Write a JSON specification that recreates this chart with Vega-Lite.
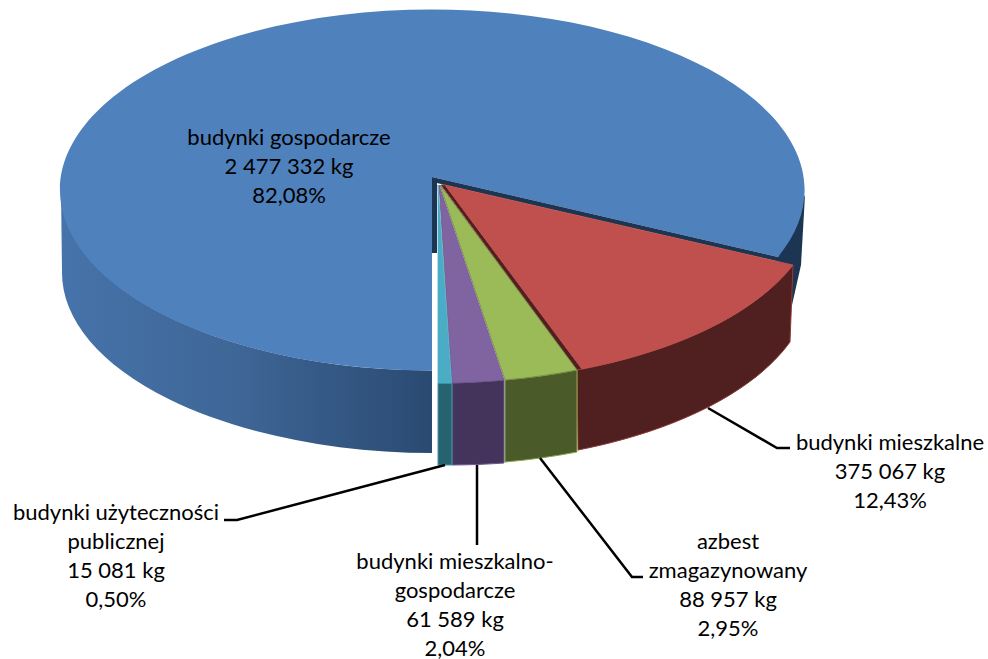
{
 "$schema":"https://vega.github.io/schema/vega-lite/v6.json",
 "width":988,"height":659,"padding":0,"autosize":{"type":"none"},
 "background":"white",
 "config":{"view":{"stroke":null}},
 "data":{"values":[
  {"slice":"budynki gospodarcze","kg":2477332,"pct":82.08,"label":"budynki gospodarcze\n2 477 332 kg\n82,08%"},
  {"slice":"budynki mieszkalne","kg":375067,"pct":12.43,"label":"budynki mieszkalne\n375 067 kg\n12,43%"},
  {"slice":"azbest zmagazynowany","kg":88957,"pct":2.95,"label":"azbest\nzmagazynowany\n88 957 kg\n2,95%"},
  {"slice":"budynki mieszkalno-gospodarcze","kg":61589,"pct":2.04,"label":"budynki mieszkalno-\ngospodarcze\n61 589 kg\n2,04%"},
  {"slice":"budynki użyteczności publicznej","kg":15081,"pct":0.5,"label":"budynki użyteczności\npublicznej\n15 081 kg\n0,50%"}
 ]},
 "resolve":{"scale":{"shape":"independent","fill":"independent","stroke":"independent"}},
 "layer":[
  {"transform":[{"filter":"datum.pct > 50"}],
   "mark":{"type":"point","filled":true,"size":4,"opacity":1,"fill":"#1c3553"},
   "encoding":{"shape":{"field":"slice","type":"nominal","legend":null,"scale":{"range":["M 284,-72.5 L 311,-134.5 L 307,-64.5 L 298,-24.5 L 276,-29.5 Z"]}}}},
  {"transform":[{"filter":"datum.pct > 50"}],
   "mark":{"type":"point","filled":true,"size":4,"opacity":1,"fill":{"x1":0,"y1":0,"x2":1,"y2":0,"gradient":"linear","stops":[{"offset":0,"color":"#4673aa"},{"offset":0.45,"color":"#3f6798"},{"offset":1,"color":"#2a4a72"}]}},
   "encoding":{"shape":{"field":"slice","type":"nominal","legend":null,"scale":{"range":["M -433,-139.5 A 372.3 180.5 0 0 0 -62,41 L -62,123.5 A 372.3 180.5 0 0 1 -432,-58.5 Z"]}}}},
  {"transform":[{"filter":"datum.pct > 50"}],
   "mark":{"type":"point","filled":true,"size":4,"opacity":1,"fill":"#4f81bd"},
   "encoding":{"shape":{"field":"slice","type":"nominal","legend":null,"scale":{"range":["M -62,-152.5 L 284,-72.5 A 372.3 180.5 0 1 0 -62,41 Z"]}}}},
  {"transform":[{"filter":"datum.pct > 50"}],
   "mark":{"type":"point","filled":true,"size":4,"opacity":1,"fill":"#1c3553"},
   "encoding":{"shape":{"field":"slice","type":"nominal","legend":null,"scale":{"range":["M -62,-152.5 L 284,-72.5 L 299,-64.5 L -49,-144.5 L -57,-146.5 L -57,-76.5 L -62,-76.5 Z"]}}}},
  {"transform":[{"filter":"datum.pct < 50"}],
   "mark":{"type":"point","filled":true,"size":4,"opacity":1,"strokeWidth":1},
   "encoding":{
    "shape":{"field":"slice","type":"nominal","legend":null,"scale":{
      "domain":["budynki mieszkalne","azbest zmagazynowany","budynki mieszkalno-gospodarcze","budynki użyteczności publicznej"],
      "range":[
       "M 83,40.5 L 88,39.5 A 373 181 0 0 0 299,-64.5 L 296,12.5 A 373 181 0 0 1 84,120.5 Z M -53,-144.5 L -49,-144.5 L 88,39.5 L 83,40.5 Z",
       "M 83,40.5 A 373 181 0 0 1 11,50.5 L 11,132.5 A 373 181 0 0 0 83,122.5 Z",
       "M 10,50.5 A 373 181 0 0 1 -42,53.5 L -42,135.5 A 373 181 0 0 0 10,133.5 Z",
       "M -42,53.5 L -56,53.5 L -56,135.5 L -42,135.5 Z"]}},
    "fill":{"field":"slice","type":"nominal","legend":null,"scale":{
      "domain":["budynki mieszkalne","azbest zmagazynowany","budynki mieszkalno-gospodarcze","budynki użyteczności publicznej"],
      "range":["#4f201f","#4a5a28","#44335a","#27636f"]}},
    "stroke":{"field":"slice","type":"nominal","legend":null,"scale":{
      "domain":["budynki mieszkalne","azbest zmagazynowany","budynki mieszkalno-gospodarcze","budynki użyteczności publicznej"],
      "range":["#8f3b38","#8aa64e","#6f5790","#3d97ad"]}}}},
  {"transform":[{"filter":"datum.pct < 50"}],
   "mark":{"type":"point","filled":true,"size":4,"opacity":1,"strokeWidth":0.8},
   "encoding":{
    "shape":{"field":"slice","type":"nominal","legend":null,"scale":{
      "domain":["budynki mieszkalne","azbest zmagazynowany","budynki mieszkalno-gospodarcze","budynki użyteczności publicznej"],
      "range":[
       "M -49,-144.5 L 299,-64.5 A 373 181 0 0 1 88,39.5 Z",
       "M -54,-144.5 L 83,40.5 A 373 181 0 0 1 11,50.5 Z",
       "M -55,-144.5 L 10,50.5 A 373 181 0 0 1 -42,53.5 Z",
       "M -56,-144.5 L -42.5,53.5 L -56,53.5 Z"]}},
    "fill":{"field":"slice","type":"nominal","legend":null,"scale":{
      "domain":["budynki mieszkalne","azbest zmagazynowany","budynki mieszkalno-gospodarcze","budynki użyteczności publicznej"],
      "range":["#c0504d","#9bbb59","#8064a2","#4bacc6"]}},
    "stroke":{"field":"slice","type":"nominal","legend":null,"scale":{
      "domain":["budynki mieszkalne","azbest zmagazynowany","budynki mieszkalno-gospodarcze","budynki użyteczności publicznej"],
      "range":["#c0504d","#6d8040","#6a5488","#4bacc6"]}}}},
  {"transform":[{"filter":"datum.pct < 50"}],
   "mark":{"type":"point","filled":false,"size":4,"opacity":1,"stroke":"black","strokeWidth":2.5},
   "encoding":{
    "shape":{"field":"slice","type":"nominal","legend":null,"scale":{
      "domain":["budynki mieszkalne","azbest zmagazynowany","budynki mieszkalno-gospodarcze","budynki użyteczności publicznej"],
      "range":[
       "M 214,78.5 L 283,118.5 L 296,118.5",
       "M 46,128.5 L 138,247.5 L 149,247.5",
       "M -17,135.5 L -17,215.5",
       "M -49,135.5 L -257,190.5 L -270,190.5"]}}}},
  {"transform":[{"filter":"datum.slice == 'budynki gospodarcze'"}],
   "mark":{"type":"text","font":"Lato","fontSize":22,"lineBreak":"\n","lineHeight":29,"align":"center","baseline":"middle","color":"black","dx":-205,"dy":-192},
   "encoding":{"text":{"field":"label"}}},
  {"transform":[{"filter":"datum.slice == 'budynki mieszkalne'"}],
   "mark":{"type":"text","font":"Lato","fontSize":22,"lineBreak":"\n","lineHeight":29,"align":"center","baseline":"middle","color":"black","dx":396,"dy":113},
   "encoding":{"text":{"field":"label"}}},
  {"transform":[{"filter":"datum.slice == 'azbest zmagazynowany'"}],
   "mark":{"type":"text","font":"Lato","fontSize":22,"lineBreak":"\n","lineHeight":29,"align":"center","baseline":"middle","color":"black","dx":234,"dy":212},
   "encoding":{"text":{"field":"label"}}},
  {"transform":[{"filter":"datum.slice == 'budynki mieszkalno-gospodarcze'"}],
   "mark":{"type":"text","font":"Lato","fontSize":22,"lineBreak":"\n","lineHeight":29,"align":"center","baseline":"middle","color":"black","dx":-39,"dy":232},
   "encoding":{"text":{"field":"label"}}},
  {"transform":[{"filter":"datum.slice == 'budynki użyteczności publicznej'"}],
   "mark":{"type":"text","font":"Lato","fontSize":22,"lineBreak":"\n","lineHeight":29,"align":"center","baseline":"middle","color":"black","dx":-378,"dy":183},
   "encoding":{"text":{"field":"label"}}}
 ]
}
